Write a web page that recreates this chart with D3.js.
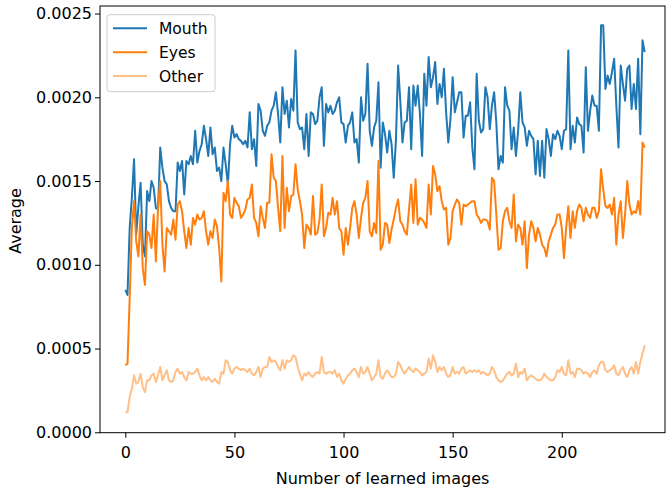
<!DOCTYPE html>
<html>
<head>
  <meta charset="utf-8">
  <title>Average per learned image</title>
  <style type="text/css">
    body { margin: 0; background-color: #fff; }
    svg { display: block; background-color: white; }
    text { font-family: "DejaVu Sans", sans-serif; fill: #000; }
    .axis text { font-size: 16px; }
    .axis line { stroke: #000; stroke-width: 1; }
    .axis path { display: none; }
  </style>
  <script src="https://d3js.org/d3.v7.min.js"></script>
</head>
<body>

<script>
// values, one per learned image (index 0..238)
var mouth = [
  0.00085,0.00082,0.00122,0.00140,0.00163,0.00118,0.00135,0.00149,0.00112,0.00105,
  0.00144,0.00138,0.00150,0.00146,0.00134,0.00133,0.00170,0.00158,0.00150,0.00148,
  0.00138,0.00134,0.00132,0.00132,0.00161,0.00156,0.00162,0.00142,0.00162,0.00160,
  0.00165,0.00160,0.00180,0.00161,0.00168,0.00172,0.00183,0.00175,0.00165,0.00182,
  0.00166,0.00170,0.00156,0.00158,0.00150,0.00170,0.00160,0.00148,0.00172,0.00183,
  0.00176,0.00178,0.00175,0.00174,0.00172,0.00174,0.00170,0.00191,0.00169,0.00175,
  0.00159,0.00196,0.00192,0.00180,0.00177,0.00183,0.00185,0.00192,0.00195,0.00203,
  0.00190,0.00173,0.00206,0.00190,0.00198,0.00182,0.00199,0.00192,0.00228,0.00185,
  0.00181,0.00182,0.00169,0.00190,0.00165,0.00191,0.00190,0.00184,0.00186,0.00200,
  0.00206,0.00171,0.00196,0.00191,0.00195,0.00190,0.00192,0.00197,0.00200,0.00185,
  0.00184,0.00173,0.00183,0.00185,0.00191,0.00173,0.00175,0.00161,0.00200,0.00186,
  0.00190,0.00220,0.00180,0.00171,0.00182,0.00186,0.00209,0.00158,0.00185,0.00178,
  0.00167,0.00180,0.00172,0.00152,0.00174,0.00219,0.00198,0.00173,0.00185,0.00186,
  0.00206,0.00169,0.00207,0.00195,0.00207,0.00190,0.00165,0.00214,0.00195,0.00224,
  0.00206,0.00212,0.00221,0.00196,0.00208,0.00200,0.00217,0.00191,0.00173,0.00187,
  0.00212,0.00191,0.00197,0.00203,0.00203,0.00176,0.00189,0.00189,0.00197,0.00170,
  0.00157,0.00214,0.00186,0.00179,0.00181,0.00206,0.00200,0.00181,0.00195,0.00203,
  0.00185,0.00157,0.00165,0.00161,0.00206,0.00195,0.00192,0.00169,0.00182,0.00165,
  0.00180,0.00203,0.00185,0.00182,0.00171,0.00180,0.00177,0.00175,0.00154,0.00174,
  0.00153,0.00174,0.00152,0.00181,0.00175,0.00165,0.00178,0.00175,0.00180,0.00177,
  0.00169,0.00180,0.00181,0.00228,0.00169,0.00183,0.00173,0.00188,0.00184,0.00183,
  0.00167,0.00218,0.00180,0.00192,0.00201,0.00195,0.00195,0.00180,0.00243,0.00243,
  0.00205,0.00213,0.00208,0.00215,0.00223,0.00195,0.00170,0.00219,0.00208,0.00198,
  0.00217,0.00219,0.00193,0.00208,0.00193,0.00223,0.00178,0.00234,0.00227
];

var eyes = [
  0.00040,0.00041,0.00080,0.00122,0.00138,0.00114,0.00105,0.00130,0.00098,0.00088,
  0.00120,0.00118,0.00110,0.00130,0.00102,0.00134,0.00150,0.00112,0.00096,0.00122,
  0.00120,0.00118,0.00127,0.00115,0.00136,0.00138,0.00132,0.00120,0.00110,0.00122,
  0.00112,0.00128,0.00124,0.00130,0.00127,0.00128,0.00132,0.00120,0.00112,0.00120,
  0.00116,0.00127,0.00123,0.00110,0.00090,0.00143,0.00138,0.00150,0.00130,0.00128,
  0.00140,0.00137,0.00135,0.00128,0.00130,0.00133,0.00139,0.00140,0.00148,0.00128,
  0.00125,0.00117,0.00135,0.00128,0.00122,0.00137,0.00137,0.00166,0.00152,0.00150,
  0.00134,0.00120,0.00165,0.00122,0.00146,0.00132,0.00141,0.00142,0.00160,0.00145,
  0.00138,0.00130,0.00110,0.00124,0.00122,0.00118,0.00141,0.00118,0.00119,0.00127,
  0.00148,0.00117,0.00122,0.00131,0.00130,0.00140,0.00130,0.00138,0.00122,0.00120,
  0.00106,0.00122,0.00112,0.00122,0.00134,0.00138,0.00130,0.00116,0.00128,0.00137,
  0.00140,0.00150,0.00120,0.00117,0.00125,0.00119,0.00162,0.00109,0.00112,0.00125,
  0.00124,0.00113,0.00121,0.00127,0.00134,0.00139,0.00126,0.00124,0.00120,0.00118,
  0.00133,0.00148,0.00125,0.00151,0.00124,0.00128,0.00127,0.00125,0.00122,0.00148,
  0.00130,0.00159,0.00154,0.00144,0.00147,0.00138,0.00133,0.00134,0.00112,0.00116,
  0.00132,0.00136,0.00139,0.00137,0.00124,0.00136,0.00135,0.00136,0.00137,0.00138,
  0.00138,0.00130,0.00128,0.00125,0.00127,0.00127,0.00126,0.00121,0.00152,0.00150,
  0.00130,0.00109,0.00110,0.00126,0.00132,0.00134,0.00126,0.00122,0.00142,0.00114,
  0.00124,0.00122,0.00112,0.00126,0.00098,0.00118,0.00126,0.00122,0.00114,0.00122,
  0.00118,0.00112,0.00110,0.00105,0.00114,0.00118,0.00122,0.00124,0.00130,0.00130,
  0.00122,0.00104,0.00122,0.00135,0.00116,0.00132,0.00122,0.00132,0.00136,0.00134,
  0.00126,0.00134,0.00130,0.00128,0.00134,0.00134,0.00128,0.00132,0.00157,0.00145,
  0.00135,0.00134,0.00136,0.00130,0.00140,0.00112,0.00130,0.00138,0.00116,0.00130,
  0.00150,0.00136,0.00130,0.00132,0.00131,0.00138,0.00130,0.00173,0.00170
];

var other = [
  0.00012,0.00012,0.00021,0.00026,0.00034,0.00029,0.00030,0.00035,0.00027,0.00024,
  0.00031,0.00031,0.00034,0.00035,0.00030,0.00034,0.00039,0.00031,0.00034,0.00037,
  0.00031,0.00030,0.00031,0.00036,0.00038,0.00035,0.00036,0.00033,0.00031,0.00036,
  0.00035,0.00035,0.00036,0.00038,0.00034,0.00031,0.00033,0.00031,0.00033,0.00031,
  0.00030,0.00032,0.00030,0.00029,0.00036,0.00035,0.00043,0.00042,0.00037,0.00035,
  0.00038,0.00039,0.00038,0.00037,0.00038,0.00037,0.00036,0.00038,0.00035,0.00034,
  0.00036,0.00039,0.00033,0.00038,0.00039,0.00039,0.00045,0.00042,0.00043,0.00042,
  0.00039,0.00037,0.00043,0.00038,0.00043,0.00042,0.00043,0.00046,0.00045,0.00039,
  0.00035,0.00031,0.00035,0.00034,0.00036,0.00034,0.00033,0.00035,0.00036,0.00035,
  0.00045,0.00036,0.00035,0.00036,0.00036,0.00035,0.00037,0.00033,0.00035,0.00031,
  0.00029,0.00032,0.00034,0.00035,0.00037,0.00038,0.00036,0.00033,0.00039,0.00035,
  0.00036,0.00039,0.00035,0.00031,0.00033,0.00035,0.00043,0.00033,0.00032,0.00035,
  0.00037,0.00035,0.00033,0.00033,0.00035,0.00042,0.00040,0.00037,0.00035,0.00037,
  0.00039,0.00037,0.00036,0.00038,0.00037,0.00036,0.00034,0.00035,0.00036,0.00044,
  0.00038,0.00046,0.00042,0.00036,0.00039,0.00037,0.00039,0.00035,0.00033,0.00034,
  0.00039,0.00035,0.00036,0.00035,0.00038,0.00039,0.00035,0.00036,0.00037,0.00036,
  0.00037,0.00036,0.00037,0.00035,0.00036,0.00035,0.00034,0.00035,0.00039,0.00037,
  0.00033,0.00031,0.00030,0.00031,0.00033,0.00035,0.00036,0.00034,0.00035,0.00041,
  0.00033,0.00036,0.00035,0.00038,0.00031,0.00033,0.00034,0.00033,0.00032,0.00031,
  0.00031,0.00032,0.00035,0.00033,0.00032,0.00031,0.00031,0.00033,0.00037,0.00036,
  0.00039,0.00035,0.00034,0.00043,0.00035,0.00036,0.00033,0.00038,0.00038,0.00037,
  0.00035,0.00036,0.00035,0.00033,0.00036,0.00037,0.00035,0.00040,0.00042,0.00042,
  0.00037,0.00036,0.00037,0.00038,0.00040,0.00035,0.00034,0.00037,0.00039,0.00035,
  0.00033,0.00037,0.00039,0.00035,0.00042,0.00035,0.00042,0.00047,0.00052
];

var seriesNames = ["Mouth", "Eyes", "Other"];
var seriesColors = ["#1f77b4", "#ff7f0e", "#ffbf86"];
var xTicks = [0, 50, 100, 150, 200];
var yTicks = [0, 0.0005, 0.0010, 0.0015, 0.0020, 0.0025];

var width = 666, height = 487;
var plot = {left: 100, right: 665, top: 6, bottom: 432.7};

var svg = d3.select("body").append("svg")
  .attr("width", width)
  .attr("height", height);

var xscale = d3.scaleLinear()
  .domain([-11.6, 247.3])
  .range([plot.left, plot.right]);

var yscale = d3.scaleLinear()
  .domain([-0.0000025, 0.002545])
  .range([plot.bottom, plot.top]);

// axes
svg.append("g")
  .attr("class", "axis")
  .attr("transform", "translate(0," + plot.bottom + ")")
  .call(d3.axisBottom(xscale).tickValues(xTicks).tickSize(5).tickPadding(8.5))
  .selectAll("text").attr("dy", "0.75em");

svg.append("g")
  .attr("class", "axis")
  .attr("transform", "translate(" + plot.left + ",0)")
  .call(d3.axisLeft(yscale).tickValues(yTicks).tickSize(5).tickPadding(3)
    .tickFormat(d3.format(".4f")));

// lines, in plotting order
var line = d3.line()
  .x(function(d, i) { return xscale(i); })
  .y(function(d) { return yscale(d); });

var allSeries = [mouth, eyes, other];

allSeries.forEach(function(s, k) {
  svg.append("path")
    .datum(s)
    .attr("fill", "none")
    .attr("stroke", seriesColors[k])
    .attr("stroke-width", 2)
    .attr("stroke-linejoin", "round")
    .attr("d", line);
});

// frame
svg.append("rect")
  .attr("x", plot.left)
  .attr("y", plot.top)
  .attr("width", plot.right - plot.left)
  .attr("height", plot.bottom - plot.top)
  .attr("fill", "none")
  .attr("stroke", "#000")
  .attr("stroke-width", 1);

// axis labels
svg.append("text")
  .attr("x", (plot.left + plot.right) / 2)
  .attr("y", 484)
  .attr("text-anchor", "middle")
  .style("font-size", "16px")
  .text("Number of learned images");

svg.append("text")
  .attr("transform", "translate(21,221) rotate(-90)")
  .attr("text-anchor", "middle")
  .style("font-size", "16px")
  .text("Average");

// legend
var legend = svg.append("g").attr("transform", "translate(107,14.7)");

legend.append("rect")
  .attr("width", 108)
  .attr("height", 77)
  .attr("rx", 3)
  .attr("fill", "white")
  .attr("fill-opacity", 0.8)
  .attr("stroke", "#ccc")
  .attr("stroke-width", 1);

seriesNames.forEach(function(name, k) {
  var ly = 13.6 + k * 23.9;
  legend.append("line")
    .attr("x1", 6).attr("x2", 40)
    .attr("y1", ly).attr("y2", ly)
    .attr("stroke", seriesColors[k])
    .attr("stroke-width", 2);
  legend.append("text")
    .attr("x", 52)
    .attr("y", ly + 6)
    .style("font-size", "15.5px")
    .text(name);
});
</script>

</body>
</html>
